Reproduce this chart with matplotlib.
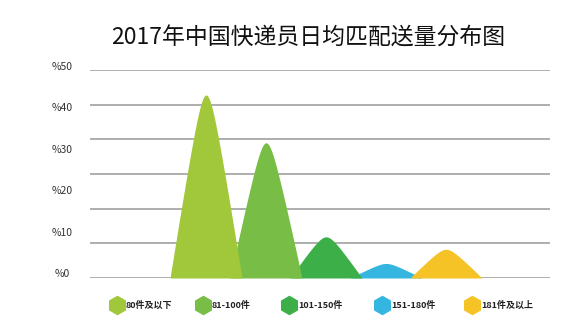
import numpy as np
import matplotlib
matplotlib.use("Agg")
import matplotlib.pyplot as plt

plt.rcParams['font.family'] = ['Noto Sans CJK SC', 'DejaVu Sans']

# data
categories = ['80件及以下', '81-100件', '101-150件', '151-180件', '181件及以上']
shares = [44.0, 32.5, 9.9, 3.5, 6.9]
colors = ['#A0C83A', '#78BD45', '#3DAF48', '#35B6E0', '#F5C325']
layer = [5, 4, 3, 2, 3.5]
ytick_vals = [0, 10, 20, 30, 40, 50]
ytick_labels = ['%0', '%10', '%20', '%30', '%40', '%50']

W, H = 575, 332
fig = plt.figure(figsize=(W / 100, H / 100), dpi=100)
ax = fig.add_axes([90 / W, 54 / H, 460 / W, 208 / H])

ax.set_xlim(-116 / 60, 344 / 60)
ax.set_ylim(0, 50)

# grid lines (7 of them, not aligned with the labels)
for g in np.linspace(0, 50, 7):
    ax.axhline(g, color='#999999', lw=1.1, zorder=0)

# peaks: triangle with rounded tip
half = 0.6
r = 0.22
t = np.linspace(-1, 1, 201)
shape = (np.sqrt(1 + r**2) - np.sqrt(t**2 + r**2)) / (np.sqrt(1 + r**2) - r)
for i, (v, c) in enumerate(zip(shares, colors)):
    ax.fill_between(i + t * half, 0, v * shape, color=c, lw=0, zorder=layer[i])

ax.set_yticks([])
ax.set_xticks([])
for s in ax.spines.values():
    s.set_visible(False)

# y labels sit slightly above the data value
for v, lab in zip(ytick_vals, ytick_labels):
    fig.text(62 / W, 1 - (274 - v * 4.14) / H, lab, ha='center', va='center',
             fontsize=7.5, color='#333333')

fig.text(308 / W, 1 - 38 / H, '2017年中国快递员日均匹配送量分布图', ha='center',
         va='center', fontsize=16.5, color='#111111')

# legend
leg_x = [117, 203, 289, 382, 472]
for x, lab, c in zip(leg_x, categories, colors):
    fig.lines.append(plt.Line2D([x / W], [1 - 305 / H], marker='h', ms=13,
                                color=c, ls='none', transform=fig.transFigure))
    fig.text((x + 9) / W, 1 - 305 / H, lab, ha='left', va='center',
             fontsize=6.5, color='#222222', fontweight='bold')

fig.savefig('out.png', dpi=100, facecolor='white')
